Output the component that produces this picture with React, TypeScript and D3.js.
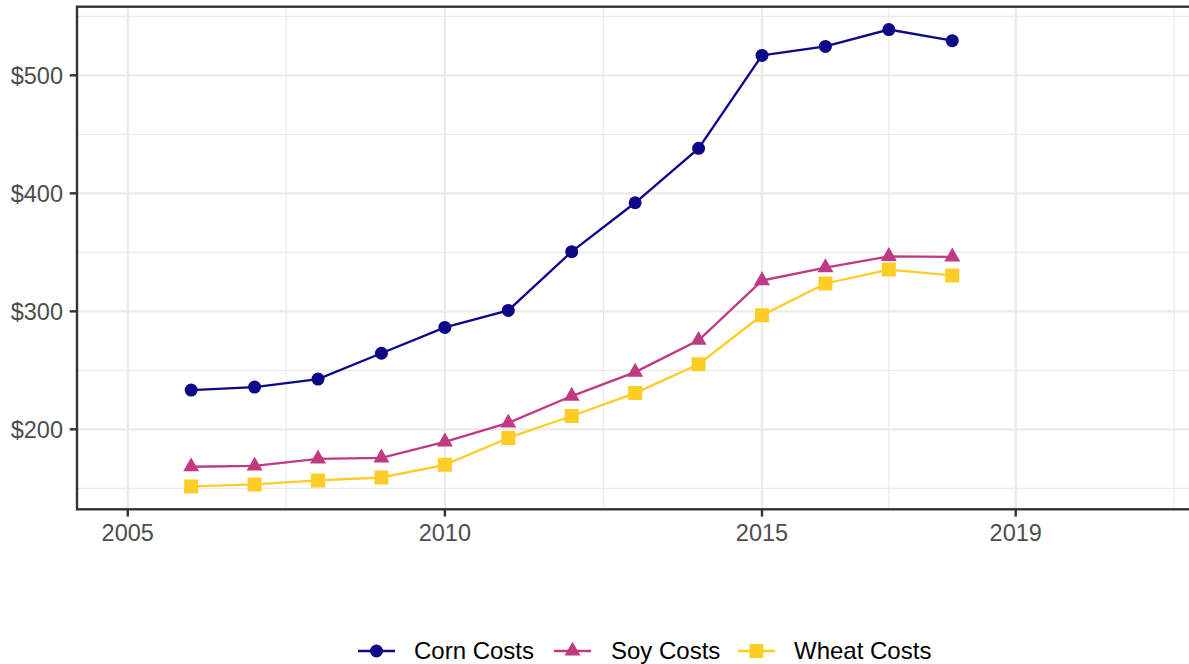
import React from "react";
import * as d3 from "d3";

const years = [2006, 2007, 2008, 2009, 2010, 2011, 2012, 2013, 2014, 2015, 2016, 2017, 2018];
const cornCosts = [233.3, 235.8, 242.6, 264.5, 286.4, 300.8, 350.6, 392.0, 438.1, 516.9, 524.5, 538.8, 529.4];
const soyCosts = [168.3, 169.0, 175.0, 175.9, 189.4, 205.4, 228.2, 248.5, 275.5, 326.1, 337.1, 346.6, 346.2];
const wheatCosts = [151.6, 153.3, 156.7, 159.2, 169.9, 192.7, 211.3, 230.7, 255.2, 296.6, 323.6, 335.4, 330.4];

const seriesNames = ["Corn Costs", "Soy Costs", "Wheat Costs"];
const seriesColors = ["#0D0887", "#C03A83", "#FCCE25"];
const seriesShapes = ["circle", "triangle", "square"];

const xBreaks = [2005, 2010, 2015, 2019];
const xMinorBreaks = [2007.5, 2012.5, 2017, 2021.5];
const xLimits = [2005, 2021];
const yBreaks = [200, 300, 400, 500];
const yMinorBreaks = [150, 250, 350, 450, 550];

const W = 1189;
const H = 664;
const panel = { left: 77, top: 6.7, right: 1193.3, bottom: 509.3 };

export default function App() {
  const seriesValues = [cornCosts, soyCosts, wheatCosts];
  const allVals = seriesValues.flat();
  const yMin = d3.min(allVals) as number;
  const yMax = d3.max(allVals) as number;
  const yPad = (yMax - yMin) * 0.05;
  const xPad = (xLimits[1] - xLimits[0]) * 0.05;

  const x = d3
    .scaleLinear()
    .domain([xLimits[0] - xPad, xLimits[1] + xPad])
    .range([panel.left, panel.right]);
  const y = d3
    .scaleLinear()
    .domain([yMin - yPad, yMax + yPad])
    .range([panel.bottom, panel.top]);

  const line = d3
    .line<number>()
    .x((_, i) => x(years[i]))
    .y((d) => y(d));

  const symbolFor = (shape: string) => {
    if (shape === "circle") return d3.symbol(d3.symbolCircle, Math.PI * 6.5 * 6.5)();
    if (shape === "triangle") return d3.symbol(d3.symbolTriangle, (16 * 16 * Math.sqrt(3)) / 4)();
    return d3.symbol(d3.symbolSquare, 14 * 14)();
  };

  const font = "'Liberation Sans', Arial, Helvetica, sans-serif";
  const legendY = 651;
  const legendItems = [
    { x1: 358, x2: 395, tx: 414 },
    { x1: 554, x2: 591, tx: 611 },
    { x1: 738, x2: 775, tx: 794 },
  ];

  return (
    <svg
      width={W}
      height={H}
      style={{ position: "absolute", left: 0, top: 0, background: "#fff" }}
    >
      <defs>
        <clipPath id="panelClip">
          <rect x={panel.left} y={panel.top} width={panel.right - panel.left} height={panel.bottom - panel.top} />
        </clipPath>
      </defs>
      <rect x={0} y={0} width={W} height={H} fill="#fff" />
      <g clipPath="url(#panelClip)">
        {yMinorBreaks.map((v) => (
          <line key={"ym" + v} x1={panel.left} x2={panel.right} y1={y(v)} y2={y(v)} stroke="#EBEBEB" strokeWidth={1.2} />
        ))}
        {xMinorBreaks.map((v) => (
          <line key={"xm" + v} y1={panel.top} y2={panel.bottom} x1={x(v)} x2={x(v)} stroke="#EBEBEB" strokeWidth={1.2} />
        ))}
        {yBreaks.map((v) => (
          <line key={"yM" + v} x1={panel.left} x2={panel.right} y1={y(v)} y2={y(v)} stroke="#EBEBEB" strokeWidth={2.4} />
        ))}
        {xBreaks.map((v) => (
          <line key={"xM" + v} y1={panel.top} y2={panel.bottom} x1={x(v)} x2={x(v)} stroke="#EBEBEB" strokeWidth={2.4} />
        ))}
        {seriesValues.map((vals, si) => (
          <path key={"l" + si} d={line(vals) || ""} fill="none" stroke={seriesColors[si]} strokeWidth={2.3} />
        ))}
        {seriesValues.map((vals, si) =>
          vals.map((v, i) => (
            <path
              key={"p" + si + "-" + i}
              d={symbolFor(seriesShapes[si]) || ""}
              transform={`translate(${x(years[i])},${y(v)})`}
              fill={seriesColors[si]}
            />
          ))
        )}
      </g>
      <rect
        x={panel.left}
        y={panel.top}
        width={panel.right - panel.left}
        height={panel.bottom - panel.top}
        fill="none"
        stroke="#333333"
        strokeWidth={2.4}
      />
      {yBreaks.map((v) => (
        <g key={"yt" + v}>
          <line x1={panel.left - 7.3} x2={panel.left} y1={y(v)} y2={y(v)} stroke="#333333" strokeWidth={2.4} />
          <text
            x={panel.left - 14}
            y={y(v)}
            dy="0.35em"
            textAnchor="end"
            fontFamily={font}
            fontSize={23.5}
            fill="#4D4D4D"
          >
            {"$" + v}
          </text>
        </g>
      ))}
      {xBreaks.map((v) => (
        <g key={"xt" + v}>
          <line x1={x(v)} x2={x(v)} y1={panel.bottom} y2={panel.bottom + 7.3} stroke="#333333" strokeWidth={2.4} />
          <text
            x={x(v)}
            y={541}
            textAnchor="middle"
            fontFamily={font}
            fontSize={23.5}
            fill="#4D4D4D"
          >
            {v}
          </text>
        </g>
      ))}
      {legendItems.map((it, si) => (
        <g key={"lg" + si}>
          <line x1={it.x1} x2={it.x2} y1={legendY} y2={legendY} stroke={seriesColors[si]} strokeWidth={2.3} />
          <path
            d={symbolFor(seriesShapes[si]) || ""}
            transform={`translate(${(it.x1 + it.x2) / 2},${legendY})`}
            fill={seriesColors[si]}
          />
          <text x={it.tx} y={legendY} dy="0.35em" fontFamily={font} fontSize={24} fill="#000">
            {seriesNames[si]}
          </text>
        </g>
      ))}
    </svg>
  );
}
